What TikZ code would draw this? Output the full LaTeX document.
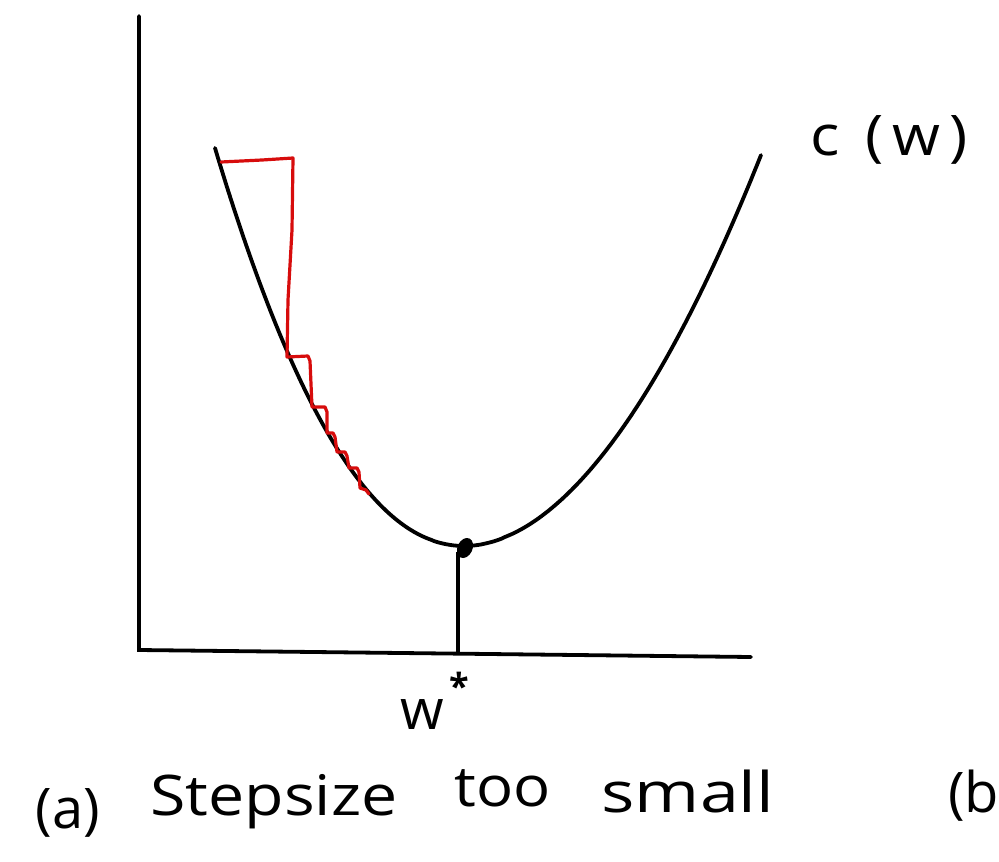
\documentclass[tikz,border=0pt]{standalone}
\usepackage{fontspec}
\setmainfont{Open Sans}
\begin{document}
\begin{tikzpicture}[x=1pt,y=-1pt,
  axis/.style={line width=3.8pt, line cap=round},
  curve/.style={line width=3.8pt, line cap=round, line join=round},
  gd/.style={line width=3.2pt, draw=gdred, line join=round, line cap=round},
  hand/.style={font=\fontsize{56}{62}\selectfont, inner sep=0pt, anchor=base}]
\definecolor{gdred}{RGB}{215,12,12}
\useasboundingbox (0,0) rectangle (999,862);
% axes
\coordinate (ytop) at (139,16);
\coordinate (origin) at (139,650);
\coordinate (xend) at (751,657);
\draw[axis] (ytop) -- (origin) -- (xend);
% cost curve
\draw[curve] plot[domain=250:0.01, samples=90] ({465-\x},{546-398*pow(\x/250,2.1)})
  -- plot[domain=0.01:296, samples=90] ({465+\x},{546-391*pow(\x/296,1.9)});
% minimum
\coordinate (wmin) at (465,548);
\coordinate (wfoot) at (458,653);
\fill[rotate around={-25:(465,548)}] (465,548) ellipse (7.5 and 10.5);
\draw[line width=3.6pt] (458,552) -- (wfoot);
% gradient descent steps
\draw[gd] (221,162) -- (262,160) -- (293,158) -- (292,230) -- (288,300)
  -- (287,357) -- (308,356) -- (310,361) -- (312,407)
  -- (325,407) -- (327,412) -- (327,433) -- (333,433) -- (335,437)
  -- (337,452) -- (345,452) -- (347,456) -- (349,468) -- (357,468)
  -- (359,472) -- (360,488) -- (366,490) -- (369,494);
% labels
\node[hand, anchor=base west] (cw) at (810,155) {\scalebox{1.1}[1]{c\hspace{24pt}(\hspace{8pt}w\hspace{8pt})}};
\node[hand] (wlab) at (422,729) {w};
\node[font=\fontsize{36}{36}\selectfont\bfseries, inner sep=0pt] (star) at (459,686) {*};
\node[hand] (capa) at (68,828) {(a)};
\node[hand] (capstep) at (274,815) {\scalebox{1.15}[1]{Stepsize}};
\node[hand] (captoo) at (503,806) {\scalebox{1.1}[1]{too}};
\node[hand] (capsmall) at (688,812) {\scalebox{1.25}[1]{small}};
\node[hand, anchor=base west] (capb) at (948,812) {(b};
\end{tikzpicture}
\end{document}
